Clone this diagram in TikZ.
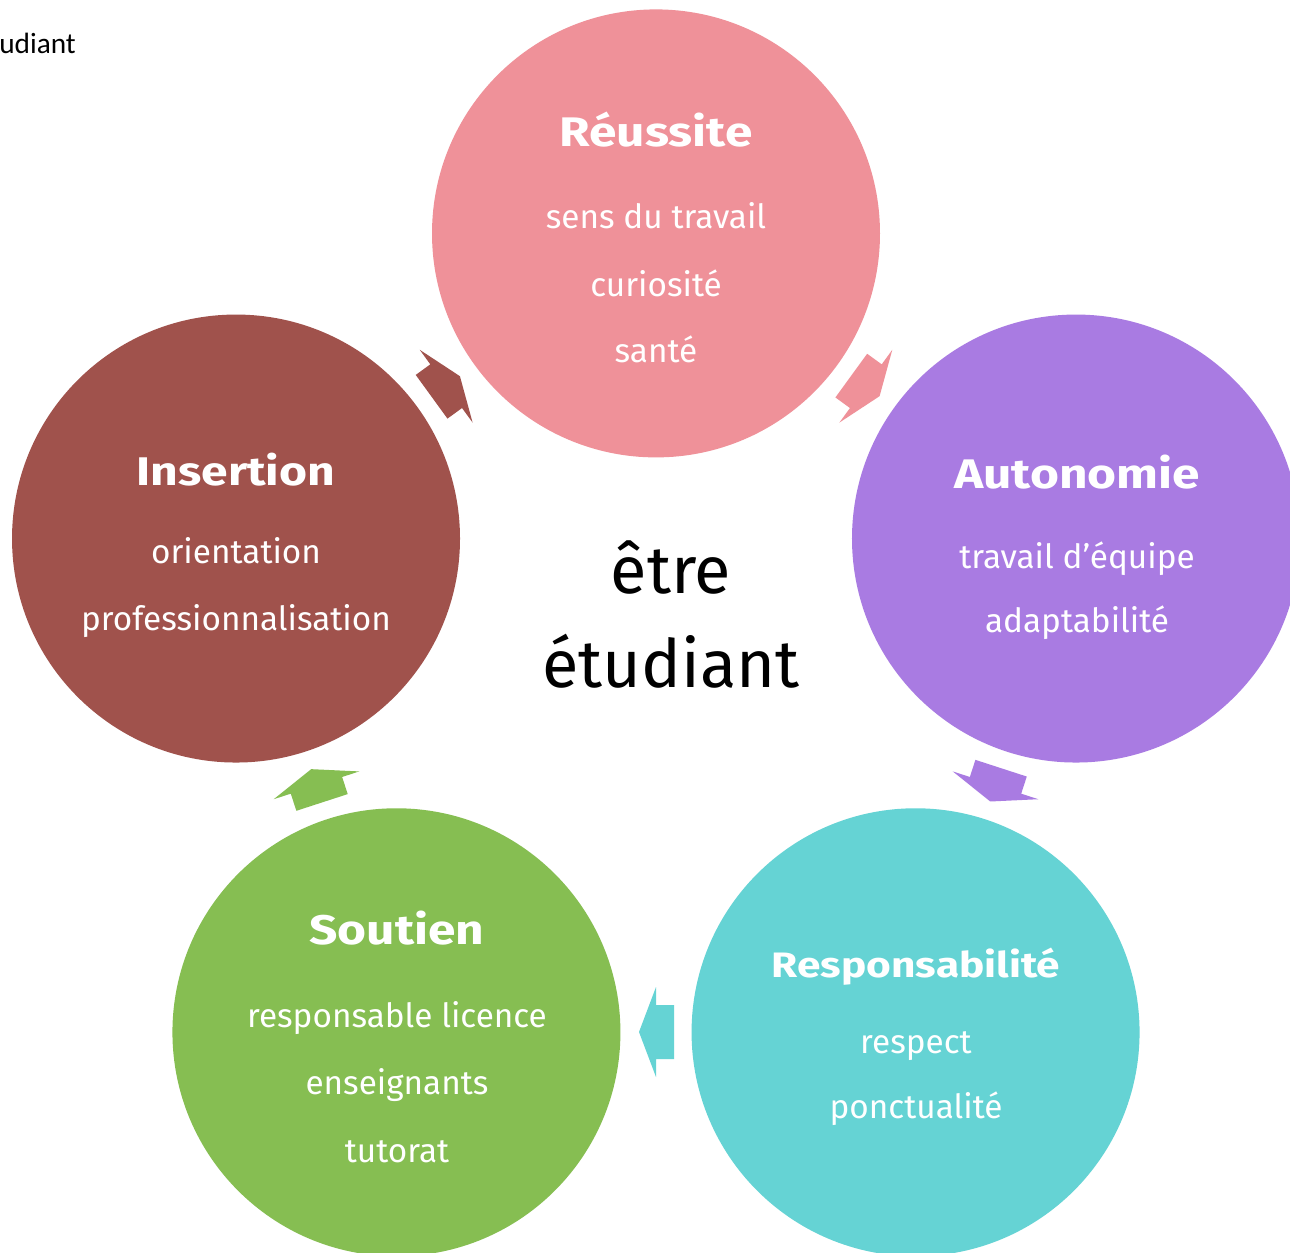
\documentclass[tikz,border=0pt]{standalone}
\usepackage{fontspec}
\setmainfont{Fira Sans}
\newfontfamily\titlefont[FakeStretch=1.2]{Fira Sans}
\newfontfamily\calfont{Carlito}
\usetikzlibrary{calc}
\definecolor{reu}{HTML}{EF9199}
\definecolor{aut}{HTML}{A97BE2}
\definecolor{res}{HTML}{65D3D4}
\definecolor{sou}{HTML}{86BE52}
\definecolor{ins}{HTML}{A0524C}
\begin{document}
\begin{tikzpicture}[x=0.75pt,y=-0.75pt,
  bubble/.style={circle, draw=none, minimum size=336pt, inner sep=0pt},
  ttl/.style={text=white, font=\titlefont\bfseries\fontsize{31}{36}\selectfont, anchor=base, inner sep=0pt},
  itm/.style={text=white, font=\fontsize{25}{30}\selectfont, anchor=base, inner sep=0pt},
  ctr/.style={text=black, font=\fontsize{50}{60}\selectfont, anchor=base, inner sep=0pt},
  cyc/.style={draw=none}
]
\clip (0,0) rectangle (1290,1253);
\fill[white] (0,0) rectangle (1290,1253);
\coordinate (C) at (656,675);
% circles
\node[bubble, fill=reu] (reussite) at ($(C)+(-90:441.6)$) {};
\node[bubble, fill=aut] (autonomie) at ($(C)+(-18:441.6)$) {};
\node[bubble, fill=res] (responsabilite) at ($(C)+(54:441.6)$) {};
\node[bubble, fill=sou] (soutien) at ($(C)+(126:441.6)$) {};
\node[bubble, fill=ins] (insertion) at ($(C)+(198:441.6)$) {};
% cycle arrows
\foreach \a/\c in {-54/reu, 18/aut, 90/res, 162/sou, 234/ins}{
  \coordinate (B) at ($(C)+(\a:357)$);
  \fill[cyc, \c] ($(B)+(\a:27)+(\a+90:-18)$) -- ($(B)+(\a:27)$) -- ($(B)+(\a:45)$)
    -- ($(B)+(\a+90:17)$) -- ($(B)+(\a+180:45)$) -- ($(B)+(\a+180:27)$)
    -- ($(B)+(\a+180:27)+(\a+90:-18)$) -- cycle;
}
% texts
\node[ttl] (t1) at (656,146) {Réussite};
\node[itm] (t1a) at (656,228) {sens du travail};
\node[itm] (t1b) at (656,296) {curiosité};
\node[itm] (t1c) at (656,362) {santé};
\node[ttl] (t2) at (1077,488) {Autonomie};
\node[itm] (t2a) at (1077,568) {travail d’équipe};
\node[itm] (t2b) at (1077,632) {adaptabilité};
\node[ttl, font=\titlefont\bfseries\fontsize{26.5}{30}\selectfont] (t3) at (916,977) {Responsabilité};
\node[itm] (t3a) at (916,1053) {respect};
\node[itm] (t3b) at (916,1118) {ponctualité};
\node[ttl] (t4) at (397,944) {Soutien};
\node[itm] (t4a) at (397,1027) {responsable licence};
\node[itm] (t4b) at (397,1094) {enseignants};
\node[itm] (t4c) at (397,1162) {tutorat};
\node[ttl, font=\titlefont\bfseries\fontsize{30}{36}\selectfont] (t5) at (236,485) {Insertion};
\node[itm] (t5a) at (236,563) {orientation};
\node[itm] (t5b) at (236,630) {professionnalisation};
\node[ctr] (c1) at (671,593) {être};
\node[ctr] (c2) at (671,687) {étudiant};
\node[anchor=base west, inner sep=0pt, font=\calfont\fontsize{22}{26}\selectfont] (tl) at (-1,53) {udiant};
\end{tikzpicture}
\end{document}
